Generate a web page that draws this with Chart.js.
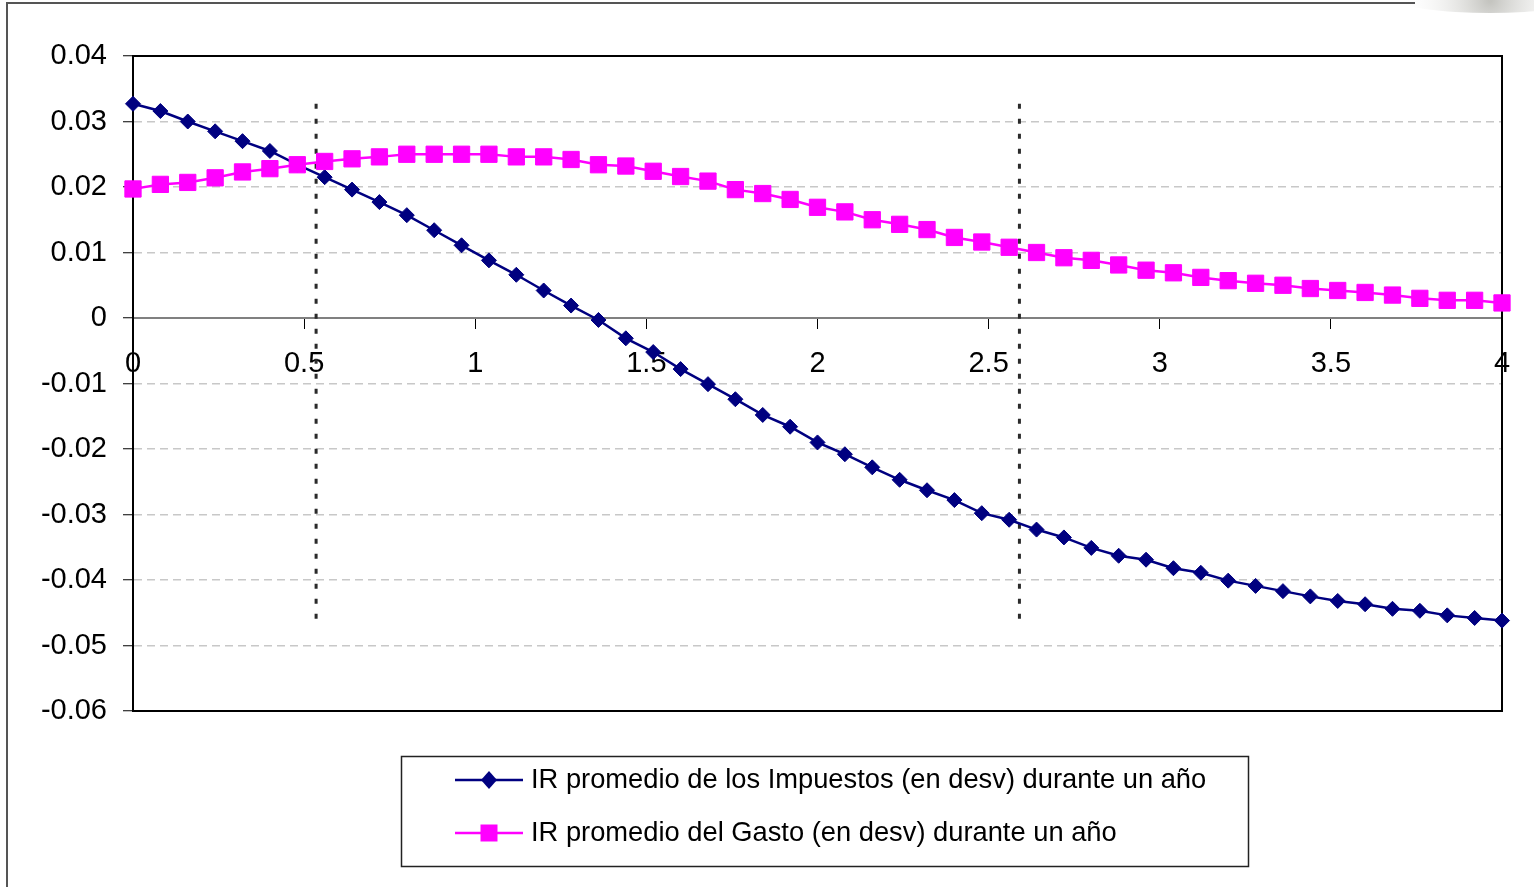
<!DOCTYPE html>
<html>
<head>
<meta charset="utf-8">
<title>IR promedio</title>
<script src="https://cdn.jsdelivr.net/npm/chart.js@4.4.1/dist/chart.umd.min.js"></script>
<style>
  html, body { margin: 0; padding: 0; background: #fff; }
  canvas { display: block; }
</style>
</head>
<body>
<canvas id="chart" width="1534" height="887"></canvas>
<script>
// horizon (x values of the two series)
const xValues = [0, 0.08, 0.16, 0.24, 0.32, 0.4, 0.48, 0.56, 0.64, 0.72,
  0.8, 0.88, 0.96, 1.04, 1.12, 1.2, 1.28, 1.36, 1.44, 1.52,
  1.6, 1.68, 1.76, 1.84, 1.92, 2, 2.08, 2.16, 2.24, 2.32,
  2.4, 2.48, 2.56, 2.64, 2.72, 2.8, 2.88, 2.96, 3.04, 3.12,
  3.2, 3.28, 3.36, 3.44, 3.52, 3.6, 3.68, 3.76, 3.84, 3.92, 4];

const impuestos = [0.0327, 0.0316, 0.0300, 0.0285, 0.0270, 0.0255, 0.0234, 0.0215, 0.0196, 0.0177,
  0.0157, 0.0134, 0.0111, 0.0088, 0.0066, 0.0042, 0.0019, -0.0003, -0.0031, -0.0052,
  -0.0078, -0.0101, -0.0124, -0.0148, -0.0166, -0.0190, -0.0208, -0.0228, -0.0247, -0.0263,
  -0.0278, -0.0298, -0.0308, -0.0323, -0.0335, -0.0351, -0.0363, -0.0369, -0.0382, -0.0389,
  -0.0401, -0.0409, -0.0417, -0.0425, -0.0432, -0.0437, -0.0444, -0.0447, -0.0454, -0.0458,
  -0.0462];

const gasto = [0.0197, 0.0204, 0.0207, 0.0214, 0.0223, 0.0228, 0.0234, 0.0239, 0.0243, 0.0246,
  0.0250, 0.0250, 0.0250, 0.0250, 0.0246, 0.0246, 0.0242, 0.0234, 0.0232, 0.0224,
  0.0216, 0.0209, 0.0196, 0.0190, 0.0181, 0.0169, 0.0162, 0.0150, 0.0143, 0.0135,
  0.0123, 0.0116, 0.0108, 0.0100, 0.0092, 0.0088, 0.0081, 0.0073, 0.0069, 0.0062,
  0.0057, 0.0053, 0.0050, 0.0045, 0.0042, 0.0039, 0.0035, 0.0030, 0.0027, 0.0027,
  0.0023];

const seriesLabels = [
  'IR promedio de los Impuestos (en desv) durante un año',
  'IR promedio del Gasto (en desv) durante un año'
];

// dotted vertical reference lines
const markerX = [0.535, 2.59];
const markerRange = [0.0327, -0.0462];

const xTicks = [0, 0.5, 1, 1.5, 2, 2.5, 3, 3.5, 4];
const yTicks = [0.04, 0.03, 0.02, 0.01, 0, -0.01, -0.02, -0.03, -0.04, -0.05, -0.06];

const NAVY = '#000080';
const PINK = '#ff00ff';
const FONT = '"Liberation Sans", Arial, sans-serif';

Chart.defaults.font.family = FONT;
Chart.defaults.font.size = 29;
Chart.defaults.color = '#000';

function points(ys) {
  return xValues.map((x, i) => ({ x: x, y: ys[i] }));
}

function fmt(v) {
  return String(Math.round(v * 100) / 100);
}

const markerSets = markerX.map(function (mx) {
  return {
    label: 'marker',
    data: [{ x: mx, y: markerRange[0] }, { x: mx, y: markerRange[1] }],
    borderColor: '#2a2a2a',
    borderWidth: 3,
    borderDash: [5, 10],
    pointRadius: 0,
    clip: false,
    order: 3
  };
});

const decor = {
  id: 'decor',
  beforeDraw(chart) {
    const ctx = chart.ctx;
    ctx.save();
    ctx.fillStyle = '#fff';
    ctx.fillRect(0, 0, chart.width, chart.height);
    // grey smudge top right
    const g = ctx.createRadialGradient(1490, 0, 2, 1490, 0, 90);
    g.addColorStop(0, 'rgba(190,190,185,0.9)');
    g.addColorStop(1, 'rgba(255,255,255,0)');
    ctx.fillStyle = g;
    ctx.beginPath();
    ctx.ellipse(1490, 0, 90, 13, 0, 0, Math.PI * 2);
    ctx.fill();
    // outer frame
    ctx.strokeStyle = '#555';
    ctx.lineWidth = 2;
    ctx.beginPath();
    ctx.moveTo(7, 887);
    ctx.lineTo(7, 3);
    ctx.lineTo(1415, 3);
    ctx.stroke();
    ctx.restore();
  },
  beforeDatasetsDraw(chart) {
    const ctx = chart.ctx, a = chart.chartArea;
    ctx.save();
    ctx.strokeStyle = '#000';
    ctx.lineWidth = 2;
    ctx.strokeRect(a.left, a.top, a.right - a.left, a.bottom - a.top);
    ctx.restore();
  },
  afterDraw(chart) {
    const ctx = chart.ctx;
    ctx.save();
    ctx.strokeStyle = '#222';
    ctx.lineWidth = 1.5;
    ctx.strokeRect(401.5, 756.5, 847, 110);
    const rows = [780, 833];
    const cols = [NAVY, PINK];
    rows.forEach(function (y, i) {
      ctx.strokeStyle = cols[i];
      ctx.lineWidth = 2.5;
      ctx.beginPath();
      ctx.moveTo(455, y);
      ctx.lineTo(523, y);
      ctx.stroke();
      ctx.fillStyle = cols[i];
      ctx.beginPath();
      if (i === 0) {
        ctx.moveTo(489, y - 9);
        ctx.lineTo(497, y);
        ctx.lineTo(489, y + 9);
        ctx.lineTo(481, y);
        ctx.closePath();
      } else {
        ctx.rect(480.5, y - 8.5, 17, 17);
      }
      ctx.fill();
      ctx.fillStyle = '#000';
      ctx.font = '27.3px ' + FONT;
      ctx.textBaseline = 'middle';
      ctx.textAlign = 'left';
      ctx.fillText(seriesLabels[i], 531, y);
    });
    ctx.restore();
  }
};

new Chart(document.getElementById('chart'), {
  type: 'line',
  data: {
    datasets: [
      {
        label: seriesLabels[1],
        data: points(gasto),
        borderColor: PINK,
        backgroundColor: PINK,
        borderWidth: 2.5,
        pointStyle: 'rect',
        pointRadius: 11.5,
        pointBorderWidth: 1,
        tension: 0,
        clip: false,
        order: 1
      },
      {
        label: seriesLabels[0],
        data: points(impuestos),
        borderColor: NAVY,
        backgroundColor: NAVY,
        borderWidth: 2.5,
        pointStyle: 'rectRot',
        pointRadius: 7.5,
        pointBorderWidth: 1,
        tension: 0,
        clip: false,
        order: 2
      }
    ].concat(markerSets)
  },
  options: {
    responsive: false,
    animation: false,
    devicePixelRatio: 1,
    layout: { padding: { left: 20, top: 56, right: 32, bottom: 176 } },
    plugins: {
      legend: { display: false },
      tooltip: { enabled: false }
    },
    scales: {
      x: {
        type: 'linear',
        min: 0,
        max: 4,
        position: { y: 0 },
        afterBuildTicks: function (s) { s.ticks = xTicks.map(v => ({ value: v })); },
        ticks: { padding: 19, autoSkip: false, maxRotation: 0, callback: fmt },
        grid: { drawOnChartArea: false, tickLength: 10, tickColor: '#000', tickWidth: 1 },
        border: { color: '#808080', width: 2 }
      },
      y: {
        min: -0.06,
        max: 0.04,
        afterBuildTicks: function (s) { s.ticks = yTicks.map(v => ({ value: v })); },
        afterFit: function (s) { s.width = 113; },
        ticks: { padding: 16, callback: fmt },
        grid: { color: '#c8c8c8', lineWidth: 1.5, tickLength: 10, tickColor: '#000', tickWidth: 1, tickBorderDash: [] },
        border: { color: '#000', width: 2, dash: [8, 5] }
      }
    }
  },
  plugins: [decor]
});
</script>
</body>
</html>
